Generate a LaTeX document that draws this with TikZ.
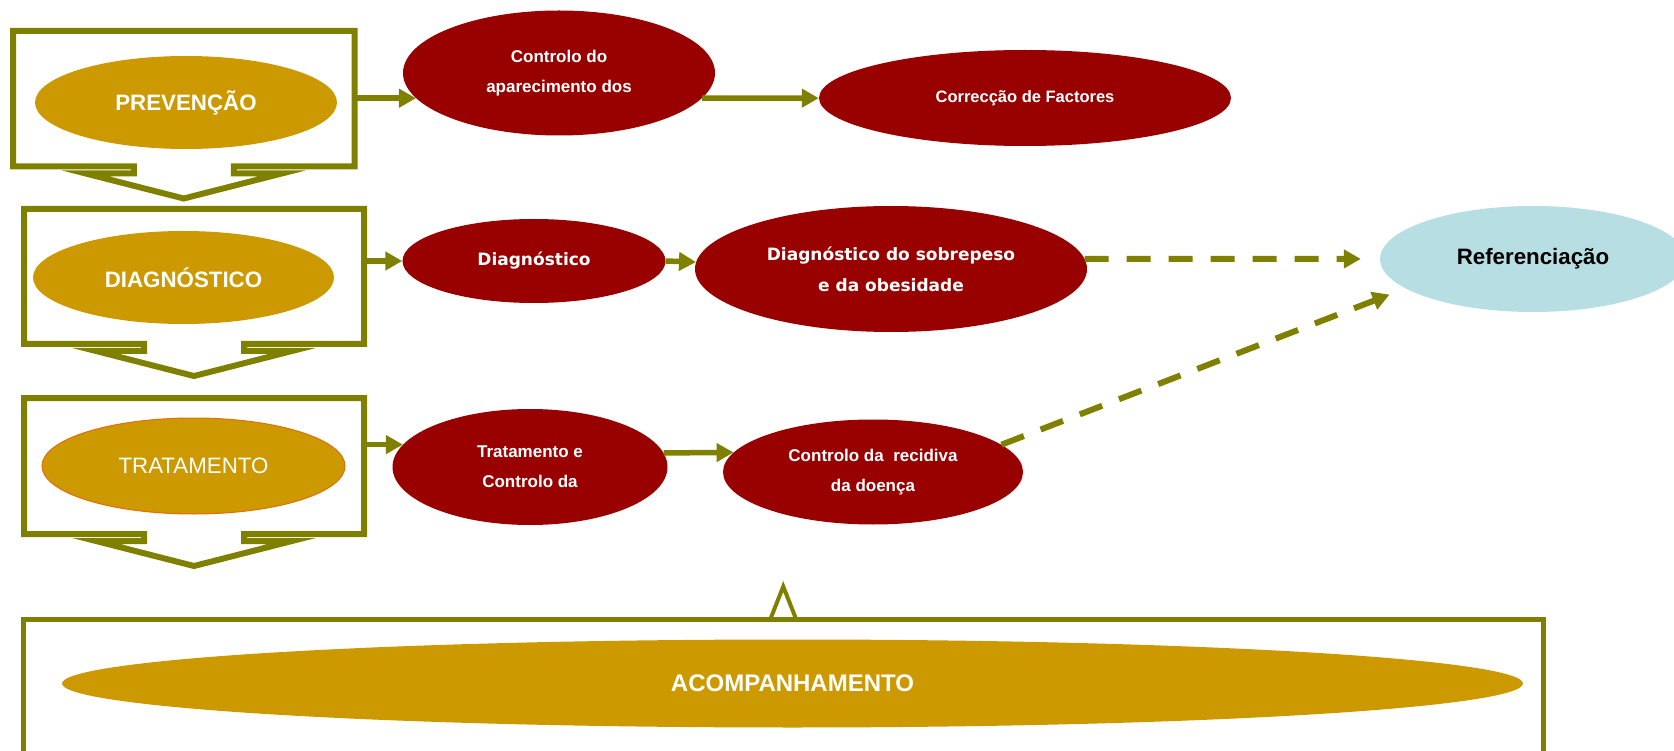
\documentclass[tikz,border=0pt]{standalone}
\usepackage{fontspec}
\setmainfont{Liberation Sans}
\newfontfamily\dejavu{DejaVu Sans}
\usetikzlibrary{shapes.geometric,arrows.meta}
\definecolor{olivegreen}{RGB}{128,128,0}
\definecolor{goldfill}{RGB}{204,153,0}
\definecolor{darkred}{RGB}{153,0,0}
\definecolor{paleblue}{RGB}{183,222,226}
\definecolor{burnt}{RGB}{228,108,10}

\newcommand\stageframe[1]{%
  \draw[frame] (#1.south west) -- (#1.north west) -- (#1.north east) -- (#1.south east)
    -- ([xshift=50pt]#1.south) -- ([xshift=50pt,yshift=-7pt]#1.south)
    -- ([xshift=98pt,yshift=-7pt]#1.south) -- ([yshift=-32pt]#1.south)
    -- ([xshift=-98pt,yshift=-7pt]#1.south) -- ([xshift=-50pt,yshift=-7pt]#1.south)
    -- ([xshift=-50pt]#1.south) -- cycle;}

\begin{document}
\begin{tikzpicture}[x=1pt,y=-1pt,
  frame/.style={draw=olivegreen,line width=6pt,line join=miter},
  box/.style={inner sep=0pt,outer sep=0pt},
  stage/.style={ellipse,fill=goldfill,text=white,inner sep=0pt,font=\fontsize{22.3}{26}\selectfont\bfseries},
  task/.style={ellipse,fill=darkred,text=white,align=center,inner sep=0pt,font=\fontsize{17}{30}\selectfont\bfseries},
  arr/.style={draw=olivegreen,line width=5.5pt,-{Triangle[length=17pt,width=18pt]}},
  dasharr/.style={draw=olivegreen,line width=6pt,dash pattern=on 24pt off 18pt,-{Triangle[length=17pt,width=18pt]}}]
\useasboundingbox (0,0) rectangle (1674,751);
\clip (0,0) rectangle (1674,751);

\node[box,minimum width=341.5pt,minimum height=135.5pt] (pframe) at (183.75,98.75) {};
\node[box,minimum width=340pt,minimum height=135pt] (dframe) at (194,276.5) {};
\node[box,minimum width=340pt,minimum height=136pt] (tframe) at (194,466) {};
\node[box,minimum width=1519.5pt,minimum height=200pt,anchor=north] (aframe) at (783.25,619.5) {};
\stageframe{pframe}
\stageframe{dframe}
\stageframe{tframe}
\draw[olivegreen,line width=5pt] (aframe.south west) -- (aframe.north west) -- (aframe.north east) -- (aframe.south east);
\draw[olivegreen,line width=4pt,line join=miter] ([xshift=-13pt]aframe.north) -- ([yshift=33pt]aframe.north) -- ([xshift=13pt]aframe.north) -- cycle;

\node[stage,minimum width=302pt,minimum height=93pt] (prev) at (186,102.5) {PREVENÇÃO};
\node[stage,minimum width=301pt,minimum height=93pt] (diag) at (183.5,277.5) {DIAGNÓSTICO};
\node[stage,draw=burnt,line width=1pt,minimum width=303pt,minimum height=96pt,font=\fontsize{22.3}{26}\selectfont] (trat) at (193.5,466) {TRATAMENTO};
\node[stage,minimum width=1461pt,minimum height=88pt,font=\fontsize{24}{28}\selectfont\bfseries] (acomp) at (792.5,683.5) {ACOMPANHAMENTO};

\node[task,minimum width=312pt,minimum height=125pt] (c1) at (559,73) {Controlo do\\aparecimento dos};
\node[task,minimum width=412pt,minimum height=96pt,font=\fontsize{16.5}{30}\selectfont\bfseries] (cf) at (1025,98) {Correcção de Factores};
\node[task,minimum width=263pt,minimum height=84pt,font=\dejavu\fontsize{17}{31}\selectfont\bfseries] (d1) at (534,261) {Diagnóstico};
\node[task,minimum width=392pt,minimum height=126pt,font=\dejavu\fontsize{17}{31}\selectfont\bfseries] (d2) at (891,269) {Diagnóstico do sobrepeso\\e da obesidade};
\node[task,minimum width=275pt,minimum height=116pt] (t1) at (530,467) {Tratamento e\\Controlo da};
\node[task,minimum width=300pt,minimum height=105pt] (t2) at (873,472) {Controlo da~ recidiva\\da doença};
\node[ellipse,fill=paleblue,inner sep=0pt,minimum width=306pt,minimum height=106pt,font=\fontsize{22.3}{26}\selectfont\bfseries] (ref) at (1533,259) {Referenciação};

\draw[arr] (pframe.east |- c1.190) -- (c1.190);
\draw[arr] (dframe.east |- d1) -- (d1);
\draw[arr] (tframe.east |- t1.170) -- (t1.170);
\draw[arr] (c1.-10) -- (cf);
\draw[arr] (d1.east) -- (d2);
\draw[arr] (t1.6) -- (t2.172);
\draw[dasharr,shorten >=19pt] (d2.3) -- (ref);
\draw[dasharr,shorten >=17pt] (t2.12) -- (ref.193);
\end{tikzpicture}
\end{document}
